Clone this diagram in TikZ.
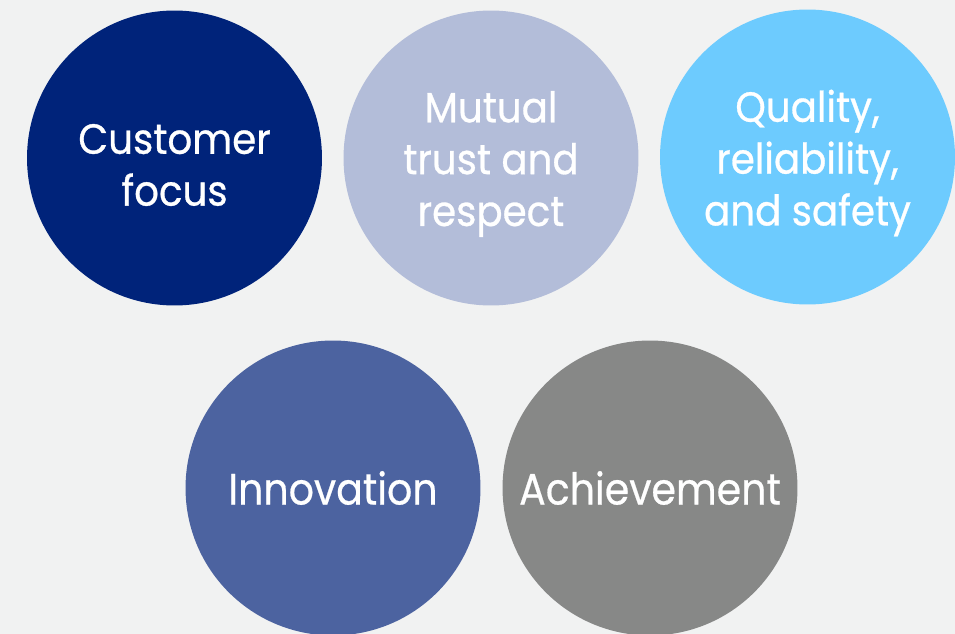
\documentclass[tikz,border=0pt]{standalone}
\usepackage{fontspec}
\setmainfont[FakeStretch=0.92,FakeBold=0.7]{Poppins}
\newfontfamily\narrowfont[FakeStretch=0.9,FakeBold=0.5]{Poppins}
\usetikzlibrary{positioning}
\definecolor{sfondo}{HTML}{F1F2F2}
\definecolor{blunotte}{HTML}{00237A}
\definecolor{lavanda}{HTML}{B3BDD9}
\definecolor{celeste}{HTML}{6DCBFE}
\definecolor{bluzaffiro}{HTML}{4C63A0}
\definecolor{grigio}{HTML}{878887}

\begin{document}
\begin{tikzpicture}[x=0.02cm,y=-0.02cm,
        valore/.style={circle,inner sep=0pt,minimum size=5.9cm},
        testo/.style={text=white,align=center,inner sep=0pt,font=\fontsize{24}{29.5}\selectfont}]
        %disegno sfondo
        \fill[sfondo] (0,0) rectangle (955,634);
        \clip (0,0) rectangle (955,634);
        %disegno cerchi riga alta
        \node[valore,fill=blunotte] (cliente) at (174.5,158) {};
        \node[valore,fill=lavanda] (fiducia) at (491,158) {};
        \node[valore,fill=celeste] (qualita) at (807.5,157) {};
        \node[testo] (tcliente) at ([yshift=-0.14cm]cliente.center) {Customer\\focus};
        \node[testo] (tfiducia) at ([yshift=-0.12cm]fiducia.center) {Mutual\\trust and\\respect};
        \node[testo] (tqualita) at ([yshift=-0.12cm]qualita.center) {Quality,\\reliability,\\and safety};
        %disegno cerchi riga bassa
        \node[valore,fill=bluzaffiro] (innovazione) at (333,488) {};
        \node[valore,fill=grigio] (risultato) at (650,488) {};
        \node[testo,font=\narrowfont\fontsize{25}{29.5}\selectfont] (tinnovazione) at (innovazione.center) {Innovation};
        \node[testo,font=\narrowfont\fontsize{25}{29.5}\selectfont] (trisultato) at (risultato.center) {Achievement};
    \end{tikzpicture}
\end{document}
